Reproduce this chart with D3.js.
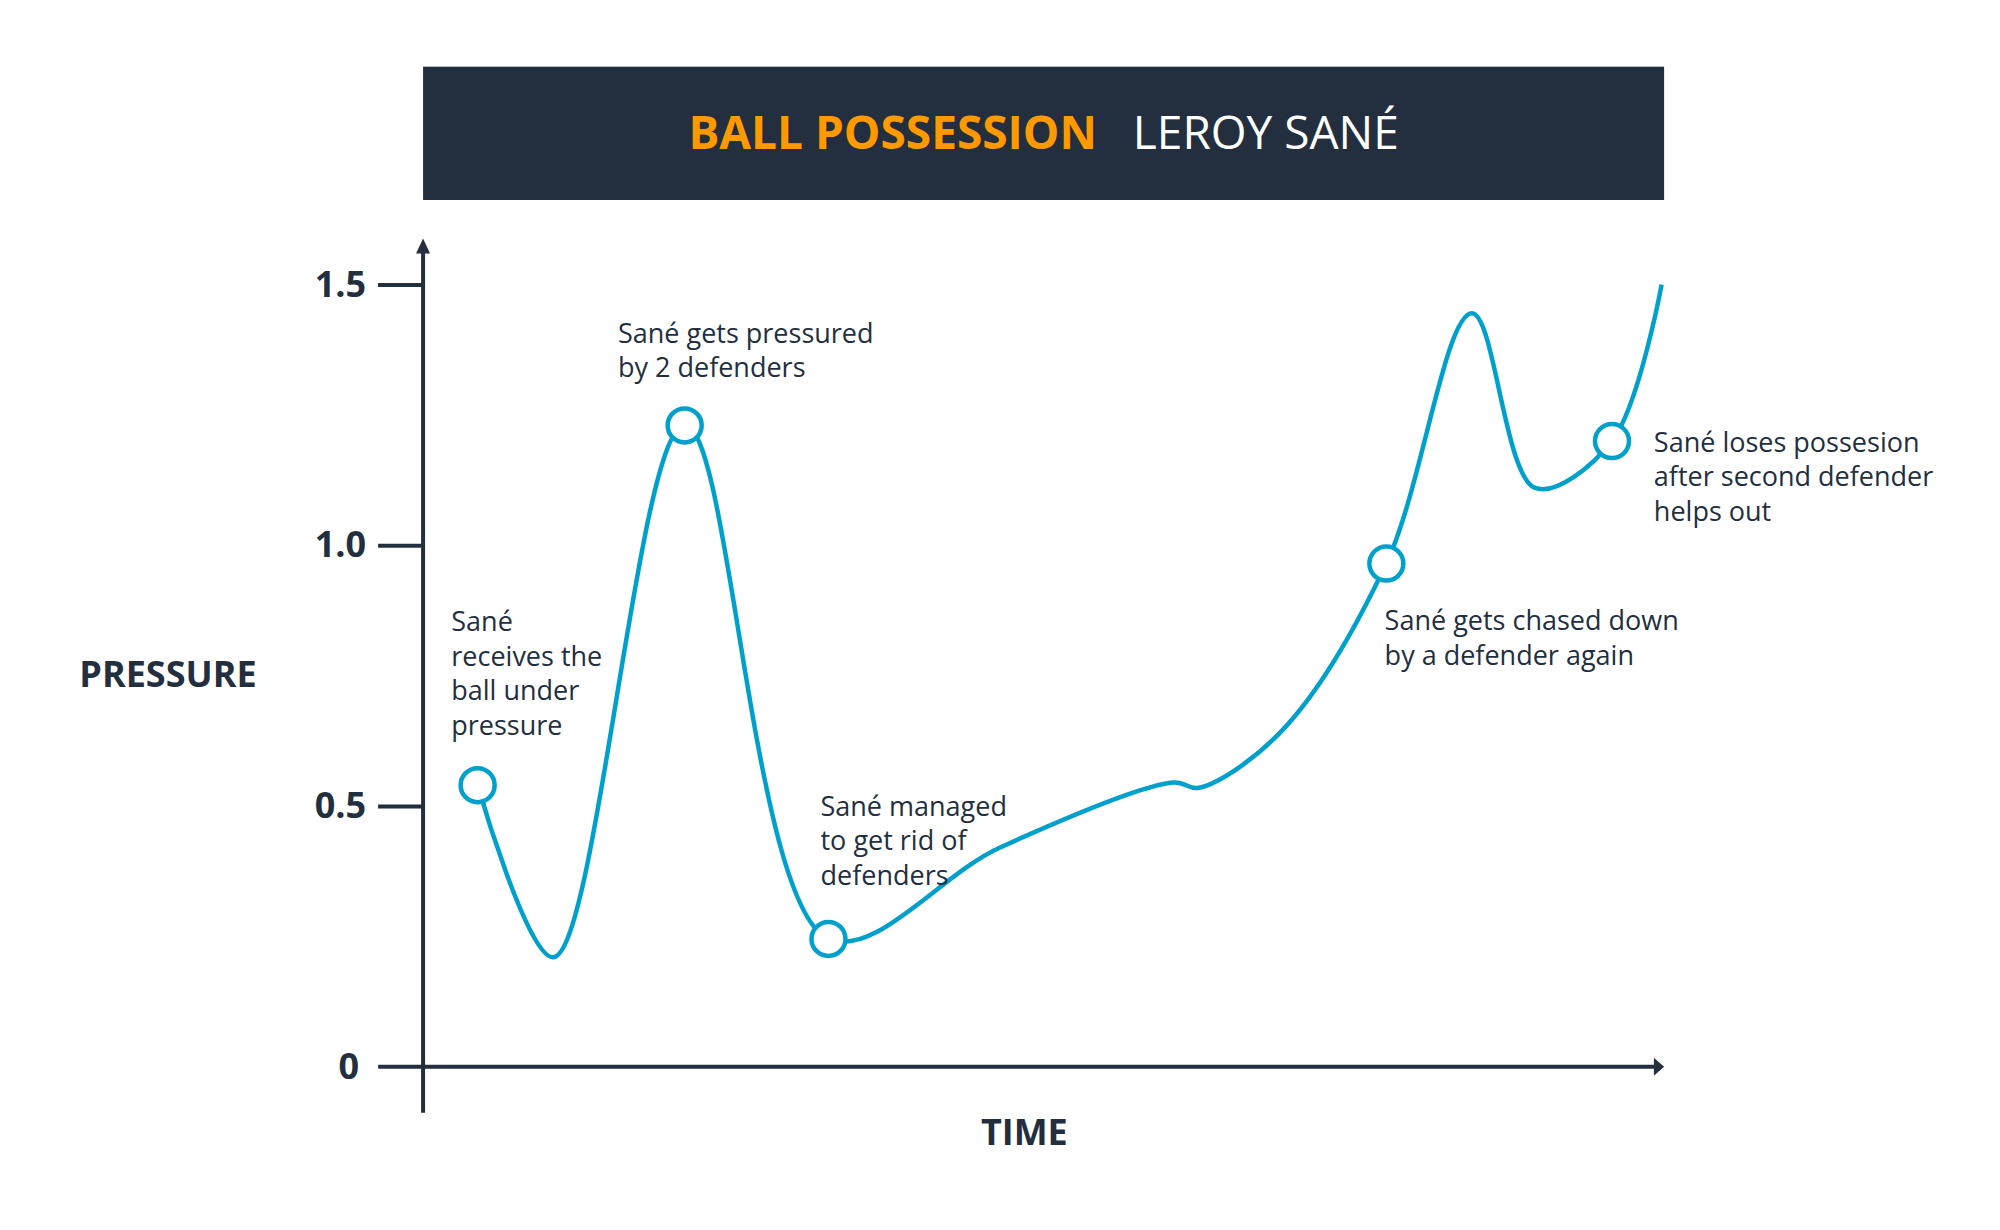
<!DOCTYPE html><html><head><meta charset="utf-8"><script src="https://cdn.jsdelivr.net/npm/d3@7"></script>
<style>body{margin:0;background:#fff}</style></head><body><svg id="c" width="2000" height="1230"></svg>
<script>
const times=[4.4,10.5,21.1,32.7,46.5,60.5,62.6,69.3,77.7,84.6,89.7,95.9,99.9];
const pressure=[0.54,0.21,1.23,0.245,0.42,0.545,0.535,0.645,0.965,1.445,1.11,1.2,1.5];
const markerTimes=[4.4,21.1,32.7,77.7,95.9];
const markerValues=[0.54,1.23,0.245,0.965,1.2];
const yTicks=[0,0.5,1.0,1.5];
const yTickLabels=["0","0.5","1.0","1.5"];
const notes=[["Sané","receives the","ball under","pressure"],["Sané gets pressured","by 2 defenders"],["Sané managed","to get rid of","defenders"],["Sané gets chased down","by a defender again"],["Sané loses possesion","after second defender","helps out"]];
const k=2000/1560;
const svg=d3.select("#c");const F="'Open Sans','Noto Sans',sans-serif";const dark="#232f3e",blue="#00a0cc";
const x=d3.scaleLinear().domain([0,100]).range([330*k,1297*k]);
const y=d3.scaleLinear().domain([0,1.5]).range([832*k,222*k]);
svg.append("rect").attr("x",330*k).attr("y",52*k).attr("width",968*k).attr("height",104*k).attr("fill",dark);
const t=svg.append("text").attr("x",814*k).attr("y",104*k).attr("dy","0.35em").attr("text-anchor","middle").attr("font-family",F).attr("font-size",46);
t.append("tspan").attr("fill","#ff9900").attr("font-weight",700).text("BALL POSSESSION");
t.append("tspan").attr("fill","#fff").attr("dx",36).text("LEROY SANÉ");
// axes
svg.append("line").attr("x1",x(0)).attr("x2",x(0)).attr("y1",190*k).attr("y2",868*k).attr("stroke",dark).attr("stroke-width",4);
svg.append("path").attr("d",`M${x(0)-7},${190*k+10}L${x(0)},${186*k}L${x(0)+7},${190*k+10}Z`).attr("fill",dark);
svg.append("line").attr("x1",295*k).attr("x2",1292*k).attr("y1",y(0)).attr("y2",y(0)).attr("stroke",dark).attr("stroke-width",4);
svg.append("path").attr("d",`M${1290*k},${y(0)-9}L${1298*k},${y(0)}L${1290*k},${y(0)+9}Z`).attr("fill",dark);
const g=svg.append("g").attr("transform",`translate(${x(0)},0)`).call(d3.axisLeft(y).tickValues(yTicks.slice(1)).tickFormat((d,i)=>yTickLabels[i+1]).tickSize(45).tickPadding(12));
g.select(".domain").remove();g.selectAll("line").attr("stroke",dark).attr("stroke-width",4);
g.selectAll("text").attr("font-family",F).attr("font-size",36).attr("font-weight",700).attr("fill",dark);
svg.append("text").attr("x",280*k).attr("y",y(0)).attr("dy","0.35em").attr("text-anchor","end").attr("font-family",F).attr("font-size",36).attr("font-weight",700).attr("fill",dark).text(yTickLabels[0]);
svg.append("text").attr("x",131*k).attr("y",526*k).attr("dy","0.35em").attr("text-anchor","middle").attr("font-family",F).attr("font-size",36).attr("font-weight",700).attr("fill",dark).text("PRESSURE");
svg.append("text").attr("x",799*k).attr("y",883*k).attr("dy","0.35em").attr("text-anchor","middle").attr("font-family",F).attr("font-size",36).attr("font-weight",700).attr("fill",dark).text("TIME");
const pts=times.map((d,i)=>[d,pressure[i]]);
svg.append("path").datum(pts).attr("d",d3.line().x(d=>x(d[0])).y(d=>y(d[1])).curve(d3.curveCatmullRom.alpha(0.5))).attr("fill","none").attr("stroke",blue).attr("stroke-width",4.5);
svg.selectAll("circle.m").data(markerTimes).join("circle").attr("cx",d=>x(d)).attr("cy",(d,i)=>y(markerValues[i])).attr("r",17).attr("fill","#fff").attr("stroke",blue).attr("stroke-width",4.5);
const pos=[[352,485],[482,260],[640,629],[1080,484],[1290,345]];
notes.forEach((n,i)=>{const tt=svg.append("text").attr("font-family",F).attr("font-size",27).attr("fill",dark);
n.forEach((l,j)=>tt.append("tspan").attr("x",pos[i][0]*k).attr("y",(pos[i][1]+27*j)*k).attr("dy","0.35em").text(l));});
</script></body></html>
